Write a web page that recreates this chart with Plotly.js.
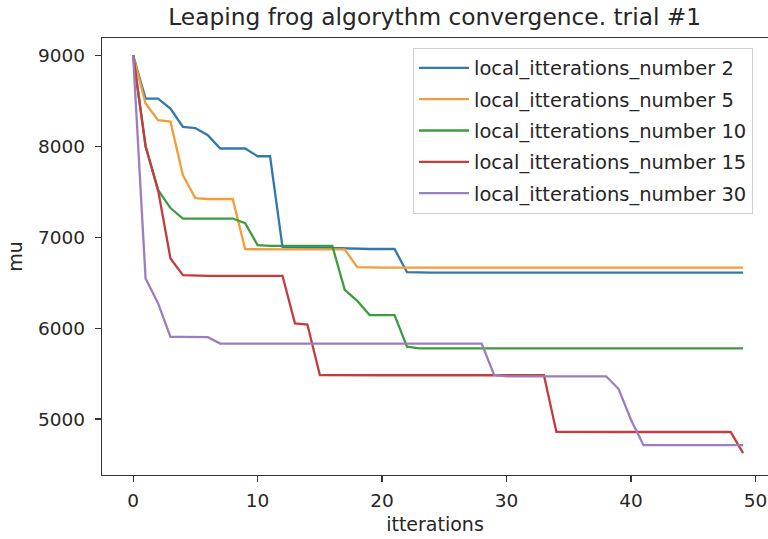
<!DOCTYPE html>
<html>
<head>
<meta charset="utf-8">
<script src="https://cdn.plot.ly/plotly-3.0.1.min.js"></script>
<style>html,body{margin:0;padding:0;background:#fff;}#chart{width:768px;height:539px;}</style>
</head>
<body>
<div id="chart"></div>
<script>
const iterations = [0,1,2,3,4,5,6,7,8,9,10,11,12,13,14,15,16,17,18,19,20,21,22,23,24,25,26,27,28,29,30,31,32,33,34,35,36,37,38,39,40,41,42,43,44,45,46,47,48,49];

const seriesNames = ["local_itterations_number 2","local_itterations_number 5","local_itterations_number 10","local_itterations_number 15","local_itterations_number 30"];

const local2 = [9000,8524,8524,8414,8212,8200,8121,7975,7975,7975,7890,7890,6890,6885,6885,6885,6880,6875,6870,6870,6870,6870,6615,6610,6610,6610,6610,6610,6610,6610,6610,6610,6610,6610,6610,6610,6610,6610,6610,6610,6610,6610,6610,6610,6610,6610,6610,6610,6610,6610];
const local5 = [9000,8470,8286,8270,7680,7430,7420,7420,7420,6868,6865,6865,6865,6865,6865,6865,6865,6865,6670,6665,6665,6665,6665,6665,6665,6665,6665,6665,6665,6665,6665,6665,6665,6665,6665,6665,6665,6665,6665,6665,6665,6665,6665,6665,6665,6665,6665,6665,6665,6665];
const local10 = [9000,8000,7520,7320,7205,7205,7205,7205,7205,7154,6912,6905,6905,6905,6905,6905,6905,6420,6300,6143,6143,6143,5795,5778,5778,5778,5778,5778,5778,5778,5778,5778,5778,5778,5778,5778,5778,5778,5778,5778,5778,5778,5778,5778,5778,5778,5778,5778,5778,5778];
const local15 = [9000,8000,7520,6766,6582,6575,6575,6575,6575,6575,6575,6575,6575,6052,6040,5484,5482,5482,5482,5482,5482,5482,5482,5482,5482,5482,5482,5482,5482,5482,5482,5482,5482,5482,4860,4858,4858,4858,4858,4858,4858,4858,4858,4858,4858,4858,4858,4858,4858,4626];
const local30 = [9000,6546,6275,5904,5904,5904,5900,5830,5830,5830,5830,5830,5830,5830,5830,5830,5830,5830,5830,5830,5830,5830,5830,5830,5830,5830,5830,5830,5830,5486,5470,5470,5470,5470,5470,5470,5470,5470,5470,5330,4990,4713,4713,4713,4713,4713,4713,4713,4713,4713];

const xTicks = [0,10,20,30,40,50];
const yTicks = [5000,6000,7000,8000,9000];

const colors = ["#3179aa","#f39c3c","#3d9c3d","#c43c3e","#9a7fc0"];
const allSeries = [local2, local5, local10, local15, local30];

const traces = allSeries.map((ys, k) => ({
  x: iterations,
  y: ys,
  type: "scatter",
  mode: "lines",
  name: seriesNames[k],
  legendgroup: "g" + k,
  line: {color: colors[k], width: 2.3}
}));

const font = {family: "DejaVu Sans, sans-serif", color: "#262626"};

const layout = {
  width: 768,
  height: 539,
  margin: {l: 102, r: 0, t: 38, b: 64},
  paper_bgcolor: "#ffffff",
  plot_bgcolor: "#ffffff",
  showlegend: true,
  title: {
    text: "Leaping frog algorythm convergence. trial #1",
    font: Object.assign({size: 23.3}, font),
    x: 0.566, xanchor: "center", xref: "container",
    y: 0.968, yanchor: "middle", yref: "container"
  },
  xaxis: {
    range: [-2.5, 51.0],
    tickvals: xTicks,
    ticktext: xTicks.map(String),
    ticks: "outside", ticklen: 6, tickwidth: 1.2, tickcolor: "#333",
    showline: true, linecolor: "#333", linewidth: 1.3, mirror: true,
    showgrid: false, zeroline: false,
    ticklabelstandoff: 2,
    tickfont: Object.assign({size: 18.5}, font),
    title: {text: "itterations", font: Object.assign({size: 19}, font), standoff: 8}
  },
  yaxis: {
    range: [4385, 9190],
    tickvals: yTicks,
    ticktext: yTicks.map(String),
    ticks: "outside", ticklen: 6, tickwidth: 1.2, tickcolor: "#333",
    showline: true, linecolor: "#333", linewidth: 1.3, mirror: false,
    showgrid: false, zeroline: false,
    ticklabelstandoff: 6,
    tickfont: Object.assign({size: 18.5}, font),
    title: {text: "mu", font: Object.assign({size: 19}, font), standoff: 10}
  },
  legend: {
    x: 0.467, y: 0.978, xanchor: "left", yanchor: "top",
    bgcolor: "rgba(255,255,255,0.9)",
    bordercolor: "#d0d0d0", borderwidth: 1,
    font: Object.assign({size: 19.5}, font),
    tracegroupgap: 3,
    itemwidth: 50
  }
};

Plotly.newPlot("chart", traces, layout, {displayModeBar: false, staticPlot: true});
</script>
</body>
</html>
